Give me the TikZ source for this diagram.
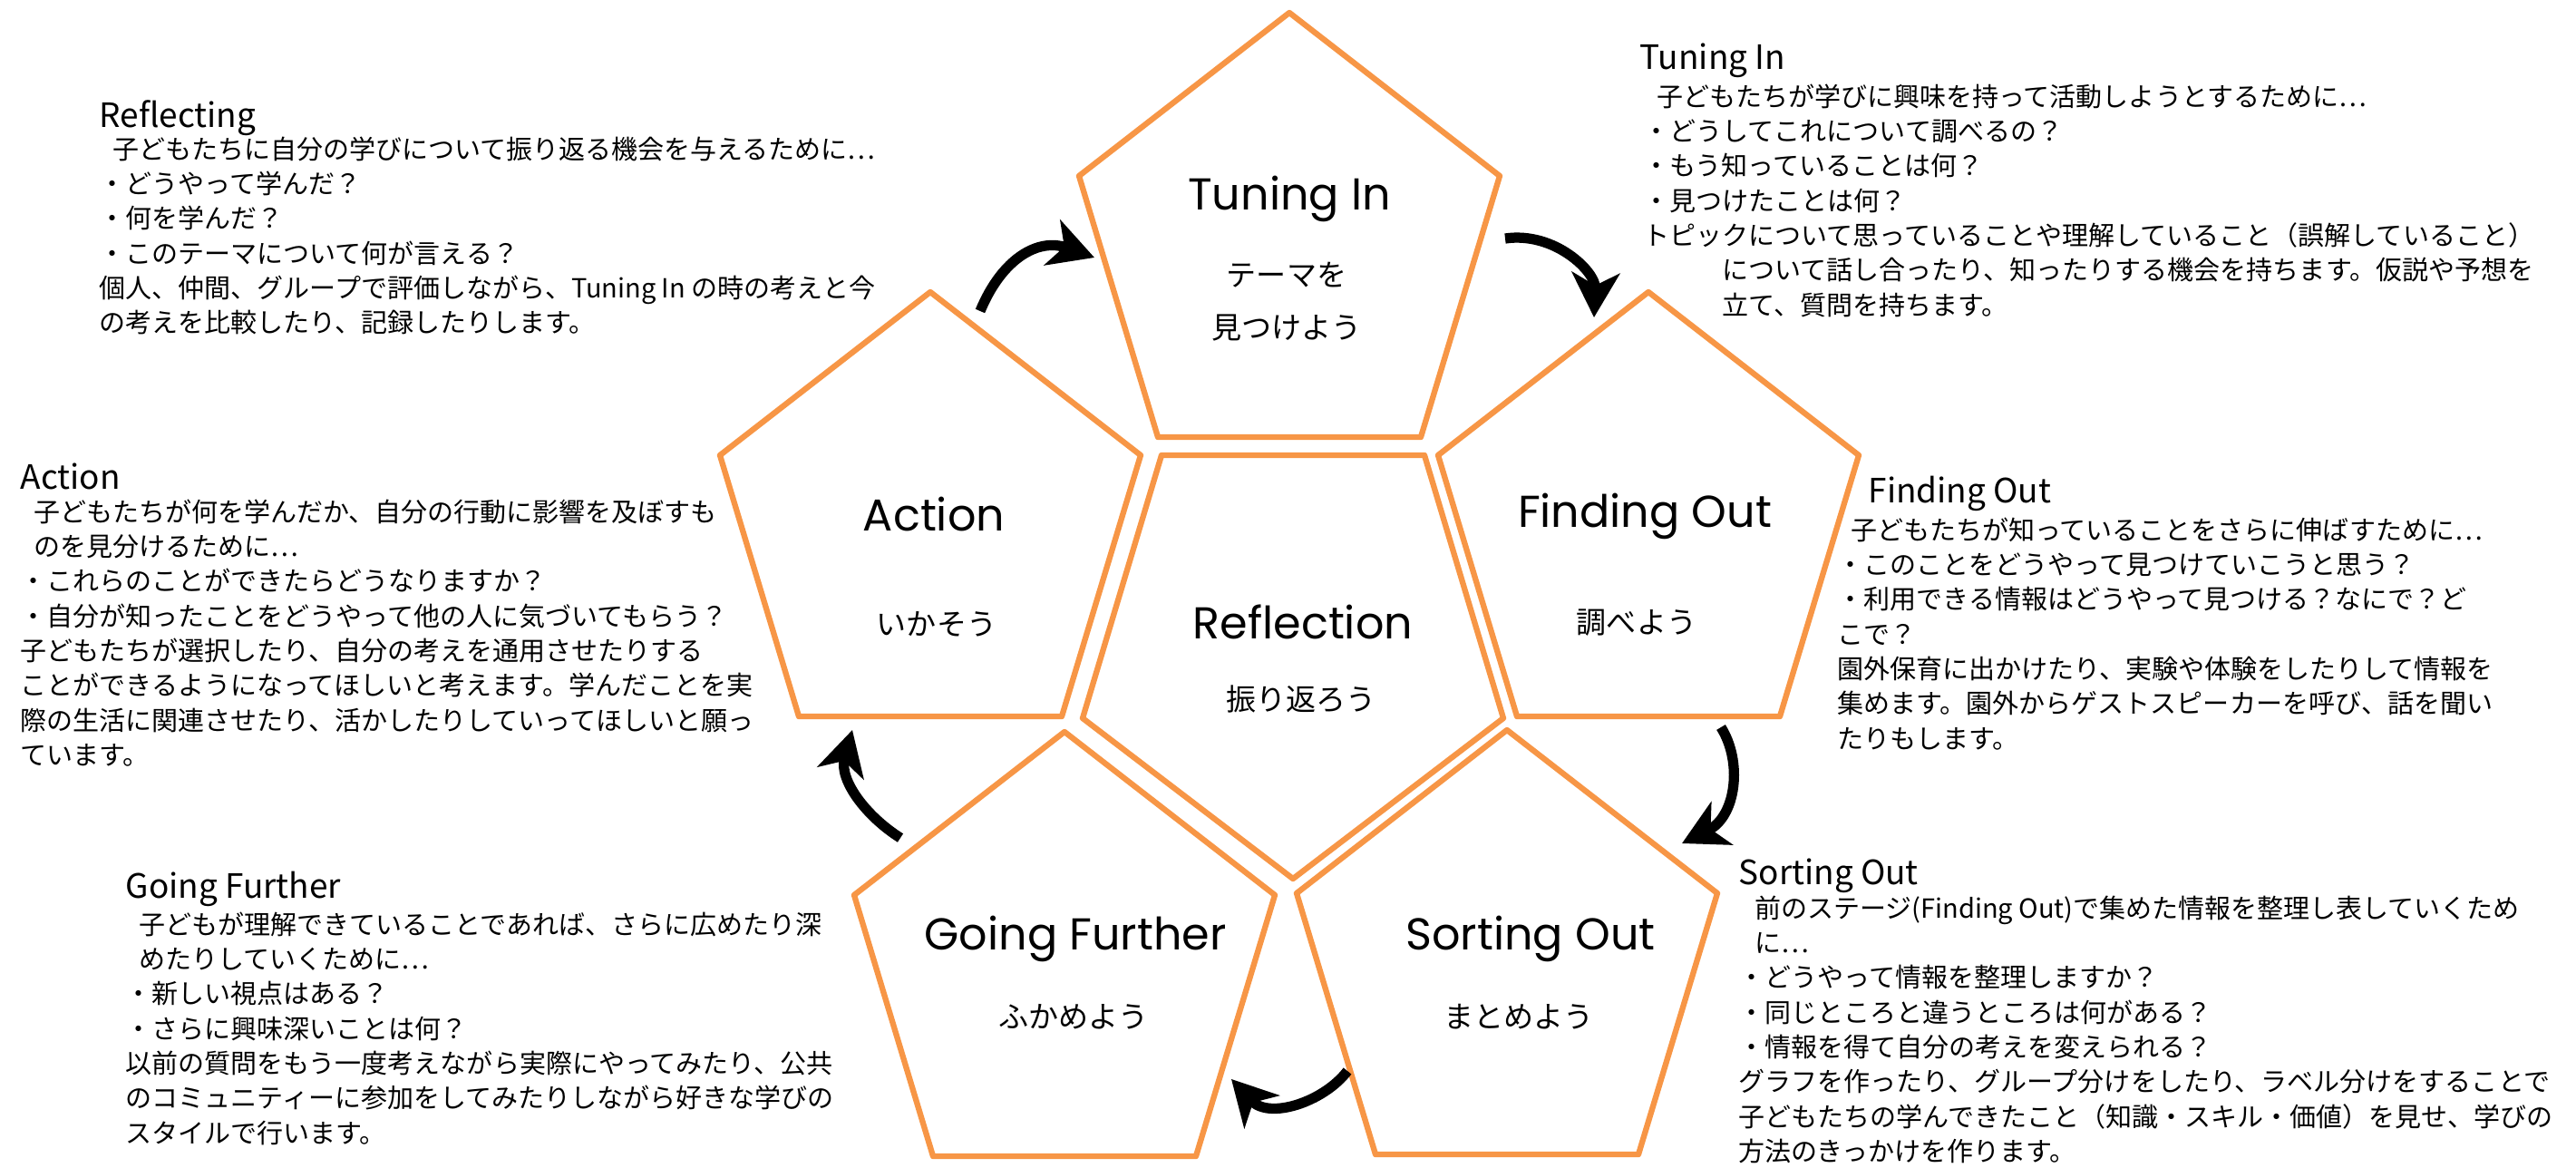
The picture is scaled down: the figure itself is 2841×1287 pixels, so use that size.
\documentclass[tikz,border=0pt]{standalone}
\usepackage{fontspec}
\setmainfont{Noto Sans CJK JP}
\newfontfamily\stagefont{Poppins}
\usepackage{tikz}
\usetikzlibrary{arrows.meta}
\definecolor{stageorange}{HTML}{F79646}

\tikzset{
  stage/.style={draw=stageorange, line width=1.8pt, line join=round},
  stage name/.style={font=\stagefont\fontsize{14}{16}\selectfont, inner sep=0pt},
  stage sub/.style={font=\fontsize{9.4}{16.5}\selectfont, align=center, inner sep=0pt},
  info head/.style={font=\fontsize{10.5}{12}\selectfont, anchor=west, inner sep=0pt},
  info body/.style={font=\fontsize{8.25}{10.9}\selectfont, anchor=north west, align=left, inner sep=0pt},
  cycle arrow/.style={line width=3.2pt, -{Stealth[length=14pt,width=15pt,inset=4pt]}}
}

\newcommand{\pentup}[2]{\draw[stage] (#1-232,#2+180) -- (#1,#2) -- (#1+232,#2+180) -- (#1+145,#2+468) -- (#1-145,#2+468) -- cycle;}
\newcommand{\pentdown}[2]{\draw[stage] (#1-145,#2-467) -- (#1+145,#2-467) -- (#1+232,#2-177) -- (#1,#2) -- (#1-232,#2-177) -- cycle;}

\begin{document}
\begin{tikzpicture}[x=0.01cm, y=-0.01cm]
\useasboundingbox (0,0) rectangle (2841,1287);

\pentup{1422}{14}
\pentup{1026}{322}
\pentup{1818}{322}
\pentup{1174}{807}
\pentup{1662}{805}
\pentdown{1426}{969}

\node[stage name] (tuning in) at (1422,219) {Tuning In};
\node[stage sub] (tuning in sub) at (1419,333) {テーマを\\見つけよう};
\node[stage name] (action) at (1030,567) {Action};
\node[stage sub] (action sub) at (1033,688) {いかそう};
\node[stage name] (reflection) at (1437,686) {Reflection};
\node[stage sub] (reflection sub) at (1435,771) {振り返ろう};
\node[stage name] (finding out) at (1814,569) {Finding Out};
\node[stage sub] (finding out sub) at (1805,687) {調べよう};
\node[stage name] (going further) at (1186,1035) {Going Further};
\node[stage sub] (going further sub) at (1184,1121) {ふかめよう};
\node[stage name] (sorting out) at (1688,1035) {Sorting Out};
\node[stage sub] (sorting out sub) at (1675,1121) {まとめよう};

\node[info head] (reflecting head) at (109,130) {Reflecting};
\node[info body] (reflecting text) at (109,150) {\hspace*{.5em}子どもたちに自分の学びについて振り返る機会を与えるために…\\
・どうやって学んだ？\\
・何を学んだ？\\
・このテーマについて何が言える？\\
個人、仲間、グループで評価しながら、Tuning In の時の考えと今\\
の考えを比較したり、記録したりします。};

\node[info head] (action head) at (22,525) {Action};
\node[info body] (action text) at (22,550) {\hspace*{.5em}子どもたちが何を学んだか、自分の行動に影響を及ぼすも\\
\hspace*{.5em}のを見分けるために…\\
・これらのことができたらどうなりますか？\\
・自分が知ったことをどうやって他の人に気づいてもらう？\\
子どもたちが選択したり、自分の考えを通用させたりする\\
ことができるようになってほしいと考えます。学んだことを実\\
際の生活に関連させたり、活かしたりしていってほしいと願っ\\
ています。};

\node[info head] (going further head) at (138,980) {Going Further};
\node[info body] (going further text) at (138,1005) {\hspace*{.5em}子どもが理解できていることであれば、さらに広めたり深\\
\hspace*{.5em}めたりしていくために…\\
・新しい視点はある？\\
・さらに興味深いことは何？\\
以前の質問をもう一度考えながら実際にやってみたり、公共\\
のコミュニティーに参加をしてみたりしながら好きな学びの\\
スタイルで行います。};

\node[info head] (tuning in head) at (1808,67) {Tuning In};
\node[info body] (tuning in text) at (1812,92) {\hspace*{.5em}子どもたちが学びに興味を持って活動しようとするために…\\
・どうしてこれについて調べるの？\\
・もう知っていることは何？\\
・見つけたことは何？\\
トピックについて思っていることや理解していること（誤解していること）\\
\hspace*{3em}について話し合ったり、知ったりする機会を持ちます。仮説や予想を\\
\hspace*{3em}立て、質問を持ちます。};

\node[info head] (finding out head) at (2060,544) {Finding Out};
\node[info body] (finding out text) at (2026,570) {\hspace*{.5em}子どもたちが知っていることをさらに伸ばすために…\\
・このことをどうやって見つけていこうと思う？\\
・利用できる情報はどうやって見つける？なにで？ど\\
こで？\\
園外保育に出かけたり、実験や体験をしたりして情報を\\
集めます。園外からゲストスピーカーを呼び、話を聞い\\
たりもします。};

\node[info head] (sorting out head) at (1917,966) {Sorting Out};
\node[info body] (sorting out text) at (1917,987) {\hspace*{.6em}前のステージ(Finding Out)で集めた情報を整理し表していくため\\
\hspace*{.6em}に…\\
・どうやって情報を整理しますか？\\
・同じところと違うところは何がある？\\
・情報を得て自分の考えを変えられる？\\
グラフを作ったり、グループ分けをしたり、ラベル分けをすることで\\
子どもたちの学んできたこと（知識・スキル・価値）を見せ、学びの\\
方法のきっかけを作ります。};

\coordinate (reflect out) at (1081,343);
\coordinate (tuning in entry) at (1207,284);
\coordinate (tuning in out) at (1660,263);
\coordinate (finding out entry) at (1758,350);
\coordinate (finding out exit) at (1898,802);
\coordinate (sorting out entry) at (1855,930);
\coordinate (sorting out exit) at (1486,1181);
\coordinate (going further entry) at (1358,1190);
\coordinate (going further exit) at (993,924);
\coordinate (action entry) at (940,805);

\draw[cycle arrow] (reflect out) .. controls (1105,285) and (1145,262) .. (tuning in entry);
\draw[cycle arrow] (tuning in out) .. controls (1715,255) and (1760,300) .. (finding out entry);
\draw[cycle arrow] (finding out exit) .. controls (1922,840) and (1915,900) .. (sorting out entry);
\draw[cycle arrow] (sorting out exit) .. controls (1460,1215) and (1400,1235) .. (going further entry);
\draw[cycle arrow] (going further exit) .. controls (955,900) and (925,860) .. (action entry);
\end{tikzpicture}
\end{document}
